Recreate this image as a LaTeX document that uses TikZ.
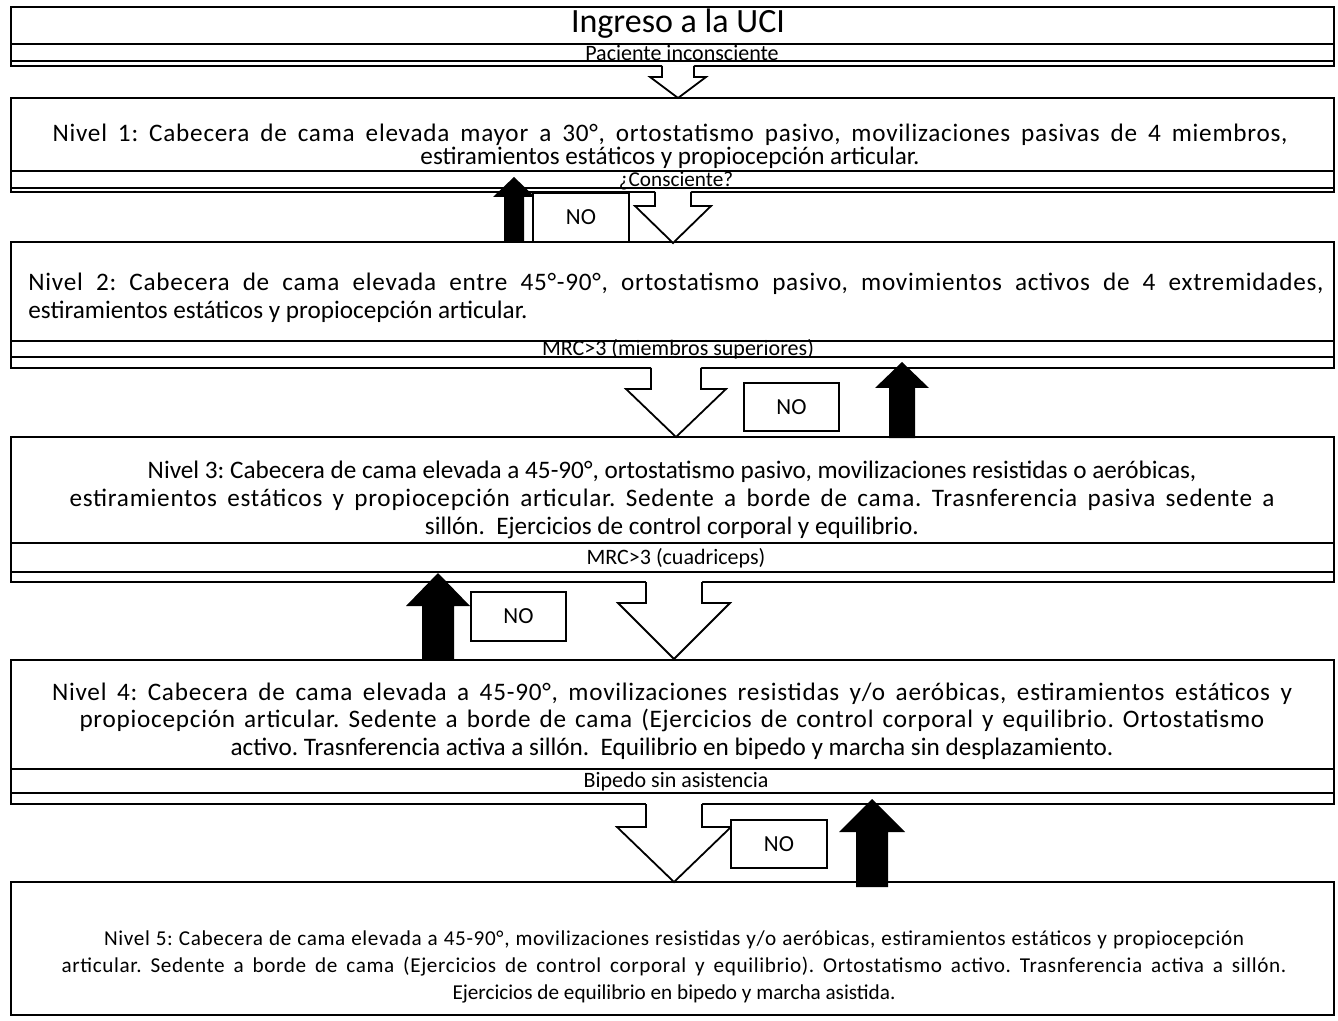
\documentclass[tikz,border=0pt]{standalone}
\usepackage{fontspec}
\setmainfont{Carlito}
\newcommand{\HArrow}[6]{% cx, top, shoulder, tip, shaft half, head half
  \fill[white] ({#1-#5},{#2-2}) -- ({#1-#5},#3) -- ({#1-#6},#3) -- (#1,#4) -- ({#1+#6},#3) -- ({#1+#5},#3) -- ({#1+#5},{#2-2}) -- cycle;
  \draw[hollowline] ({#1-#5},#2) -- ({#1-#5},#3) -- ({#1-#6},#3) -- (#1,#4) -- ({#1+#6},#3) -- ({#1+#5},#3) -- ({#1+#5},#2);
}
\newcommand{\BArrow}[6]{% cx, bottom, head base, tip, shaft half, head half
  \fill[black] ({#1-#5},#2) -- ({#1-#5},#3) -- ({#1-#6},#3) -- (#1,#4) -- ({#1+#6},#3) -- ({#1+#5},#3) -- ({#1+#5},#2) -- cycle;
}
% a line of text spread to a width given in pixels of the reference
\newcommand{\Ln}[2]{\makebox[\dimexpr #1pt/2\relax][s]{\addfontfeatures{LetterSpace=3}#2}}
\tikzset{
  outerbox/.style={draw=black, line width=1.3pt},
  stripline/.style={draw=black, line width=1pt},
  hollowline/.style={draw=black, line width=0.9pt, line join=miter},
  nobox/.style={draw=black, fill=white, line width=0.6pt},
  lvltext/.style={inner sep=0pt, font=\fontsize{12.6}{13.8}\selectfont},
  condtext/.style={inner sep=0pt, font=\fontsize{11}{12}\selectfont},
  notext/.style={inner sep=0pt, font=\fontsize{11.5}{13}\selectfont},
}
\begin{document}
\frenchspacing
\begin{tikzpicture}[x=0.5pt,y=-0.5pt]
\useasboundingbox (0,0) rectangle (1338,1021);
\fill[white] (0,0) rectangle (1338,1021);
% ---------- boxes ----------
\draw[outerbox] (11,7) rectangle (1334,66);
\draw[stripline] (11,44) -- (1334,44);
\draw[stripline] (11,61) -- (1334,61);
\draw[outerbox] (11,98) rectangle (1334,192);
\draw[stripline] (11,171) -- (1334,171);
\draw[stripline] (11,188) -- (1334,188);
\draw[outerbox] (11,242) rectangle (1334,368);
\draw[stripline] (11,341) -- (1334,341);
\draw[stripline] (11,357) -- (1334,357);
\draw[outerbox] (11,437) rectangle (1334,582);
\draw[stripline] (11,543) -- (1334,543);
\draw[stripline] (11,572) -- (1334,572);
\draw[outerbox] (11,660) rectangle (1334,804);
\draw[stripline] (11,769) -- (1334,769);
\draw[stripline] (11,793) -- (1334,793);
\draw[outerbox] (11,882) rectangle (1334,1015);
% ---------- texts ----------
\node[inner sep=0pt, font=\fontsize{17}{19}\selectfont] (ingreso) at (678,24) {Ingreso a la UCI};
\node[condtext] (c0) at (682,53) {Paciente inconsciente};
\node[lvltext, align=center, font=\fontsize{12.6}{11.4}\selectfont] (n1) at (670,146) {\Ln{1235}{Nivel 1: Cabecera de cama elevada mayor a 30°, ortostatismo pasivo, movilizaciones pasivas de 4 miembros,}\\estiramientos estáticos y propiocepción articular.};
\node[condtext, font=\fontsize{10.6}{12}\selectfont] (c1) at (676,181) {¿Consciente?};
\node[lvltext, align=left, anchor=west] (n2) at (28,298) {\Ln{1295}{Nivel 2: Cabecera de cama elevada entre 45°-90°, ortostatismo pasivo, movimientos activos de 4 extremidades,}\\estiramientos estáticos y propiocepción articular.};
\node[condtext] (c2) at (678,349) {MRC>3 (miembros superiores)};
\node[lvltext, align=center] (n3) at (672,500) {Nivel 3: Cabecera de cama elevada a 45-90°, ortostatismo pasivo, movilizaciones resistidas o aeróbicas,\\\Ln{1205}{estiramientos estáticos y propiocepción articular. Sedente a borde de cama. Trasnferencia pasiva sedente a}\\sillón.\ \ Ejercicios de control corporal y equilibrio.};
\node[condtext] (c3) at (676,558) {MRC>3 (cuadriceps)};
\node[lvltext, align=center] (n4) at (672,721) {\Ln{1240}{Nivel 4: Cabecera de cama elevada a 45-90°, movilizaciones resistidas y/o aeróbicas, estiramientos estáticos y}\\\Ln{1185}{propiocepción articular. Sedente a borde de cama (Ejercicios de control corporal y equilibrio. Ortostatismo}\\activo. Trasnferencia activa a sillón.\ \ Equilibrio en bipedo y marcha sin desplazamiento.};
\node[condtext] (c4) at (676,782) {Bipedo sin asistencia};
\node[inner sep=0pt, align=center, font=\fontsize{10.6}{13.3}\selectfont] (n5) at (674,967) {\Ln{1140}{Nivel 5: Cabecera de cama elevada a 45-90°, movilizaciones resistidas y/o aeróbicas, estiramientos estáticos y propiocepción}\\\Ln{1225}{articular. Sedente a borde de cama (Ejercicios de control corporal y equilibrio). Ortostatismo activo. Trasnferencia activa a sillón.}\\Ejercicios de equilibrio en bipedo y marcha asistida.};
% ---------- arrows ----------
\HArrow{678}{66}{77}{98}{16}{28}
\HArrow{673}{192}{206}{243}{18}{38}
\BArrow{514}{242}{197}{177}{10}{21}
\node[nobox, minimum width=48pt, minimum height=24.5pt] (no1) at (581,217.5) {};
\node[notext] at (no1) {NO};
\HArrow{676}{368}{389}{437}{25}{50}
\node[nobox, minimum width=47.5pt, minimum height=24pt] (no2) at (791.5,407) {};
\node[notext] at (no2) {NO};
\BArrow{902}{438}{388}{362}{13}{27}
\HArrow{674}{582}{603}{659}{28}{56}
\BArrow{438}{660}{606}{573}{16}{32}
\node[nobox, minimum width=47.5pt, minimum height=24.5pt] (no3) at (518.5,616.5) {};
\node[notext] at (no3) {NO};
\HArrow{674}{804}{827}{882}{28}{57}
\node[nobox, minimum width=48pt, minimum height=24pt] (no4) at (779,844) {};
\node[notext] at (no4) {NO};
\BArrow{872}{887}{832}{799}{16}{33}
\end{tikzpicture}
\end{document}
